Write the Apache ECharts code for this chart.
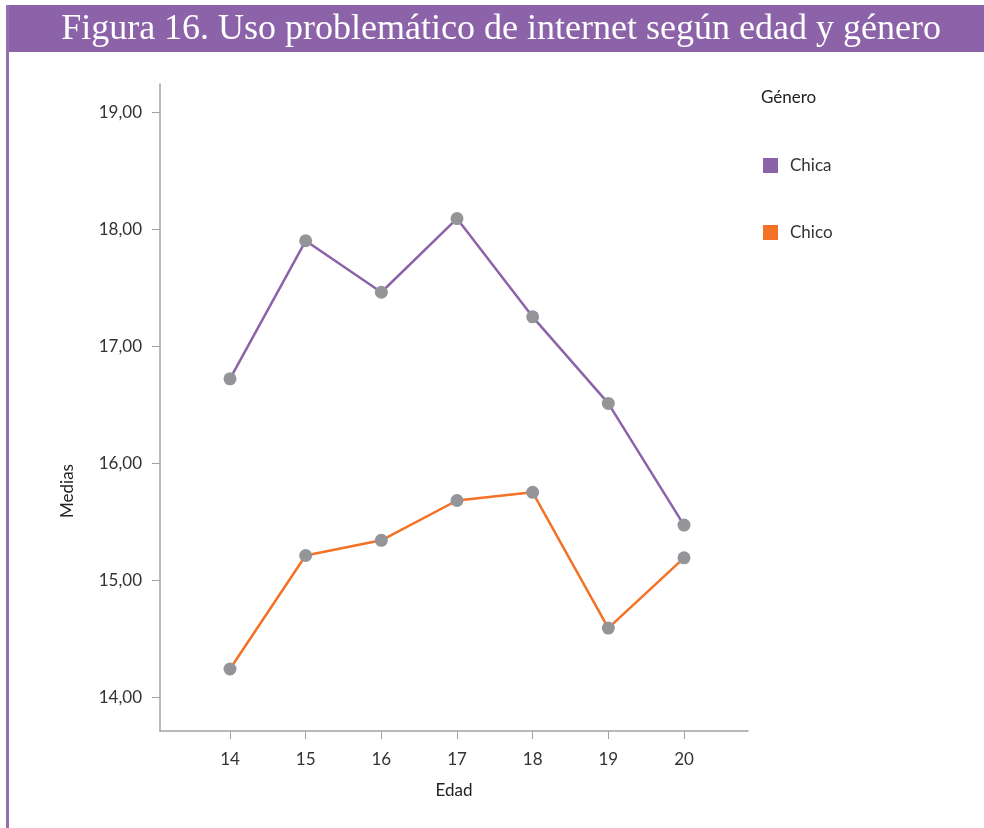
<!DOCTYPE html>
<html>
<head>
<meta charset="utf-8">
<script src="https://cdn.jsdelivr.net/npm/echarts@6/dist/echarts.min.js"></script>
<style>
  html, body { margin: 0; padding: 0; background: #fff; }
  #chart { width: 984px; height: 828px; }
</style>
</head>
<body>
<div id="chart"></div>
<script>
// datos
const edades = [14, 15, 16, 17, 18, 19, 20];
const chica = [16.72, 17.90, 17.46, 18.09, 17.25, 16.51, 15.47];
const chico = [14.24, 15.21, 15.34, 15.68, 15.75, 14.59, 15.19];
const ticksY = [14, 15, 16, 17, 18, 19];

const morado = '#8c63a9';
const naranja = '#f47125';
const gris = '#939598';
const fuente = 'Lato';

const toPairs = (vals) => edades.map((e, i) => [e, vals[i]]);

const chart = echarts.init(document.getElementById('chart'), null, { renderer: 'canvas' });

const buildSerie = (name, color, vals) => ({
    name,
    type: 'line',
    data: toPairs(vals),
    symbol: 'circle',
    symbolSize: 13,
    itemStyle: { color: gris },
    lineStyle: { color, width: 2.5 },
    z: name === 'Chica' ? 3 : 2
});

chart.setOption({
    animation: false,
    textStyle: { fontFamily: fuente },
    graphic: [
        {
            type: 'rect',
            shape: { x: 6, y: 5, width: 978, height: 47 },
            style: { fill: morado }
        },
        {
            type: 'rect',
            shape: { x: 6, y: 5, width: 3, height: 823 },
            style: { fill: '#9370ae' }
        },
        {
            type: 'text',
            x: 501,
            y: 30,
            style: {
                text: 'Figura 16. Uso problemático de internet según edad y género',
                fill: '#fff',
                font: '36px "Liberation Serif"',
                align: 'center',
                verticalAlign: 'middle'
            }
        },
        {
            type: 'text',
            x: 761,
            y: 98,
            style: {
                text: 'Género',
                fill: '#222',
                font: '17px ' + fuente,
                verticalAlign: 'middle'
            }
        },
        {
            type: 'text',
            x: 68,
            y: 491,
            rotation: Math.PI / 2,
            style: {
                text: 'Medias',
                fill: '#222',
                font: '17px ' + fuente,
                align: 'center',
                verticalAlign: 'middle'
            }
        }
    ],
    legend: {
        orient: 'vertical',
        left: 758,
        top: 152,
        icon: 'rect',
        itemWidth: 15,
        itemHeight: 15,
        itemGap: 50,
        data: [
            { name: 'Chica', itemStyle: { color: morado } },
            { name: 'Chico', itemStyle: { color: naranja } }
        ],
        textStyle: { fontSize: 17, color: '#333', padding: [0, 0, 0, 7] }
    },
    grid: { left: 160, right: 236, top: 84, bottom: 97 },
    xAxis: {
        type: 'value',
        min: 13.075,
        max: 20.846,
        name: 'Edad',
        nameLocation: 'middle',
        nameGap: 51,
        nameTextStyle: { fontSize: 17, color: '#222' },
        splitLine: { show: false },
        axisLine: { lineStyle: { color: '#a3a3a3', width: 1.5 } },
        axisTick: { customValues: edades, length: 8, lineStyle: { color: '#a3a3a3' } },
        axisLabel: { customValues: edades, margin: 20, fontSize: 17, color: '#333' }
    },
    yAxis: {
        type: 'value',
        min: 13.71,
        max: 19.24,
        splitLine: { show: false },
        axisLine: { show: true, lineStyle: { color: '#a3a3a3', width: 1.5 } },
        axisTick: { show: true, customValues: ticksY, length: 8, lineStyle: { color: '#a3a3a3' } },
        axisLabel: {
            customValues: ticksY,
            margin: 18,
            fontSize: 17,
            color: '#333',
            formatter: (v) => v.toFixed(2).replace('.', ',')
        }
    },
    series: [
        buildSerie('Chica', morado, chica),
        buildSerie('Chico', naranja, chico)
    ]
});
</script>
</body>
</html>
